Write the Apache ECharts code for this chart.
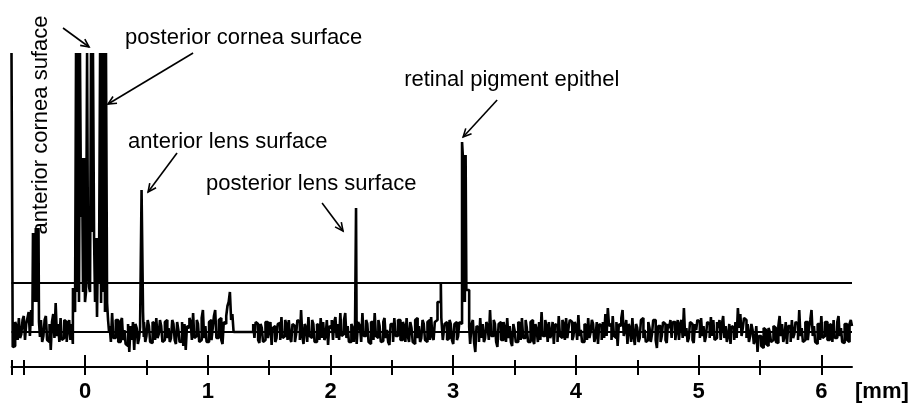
<!DOCTYPE html>
<html lang="en">
<head>
<meta charset="UTF-8">
<title>A-scan echogram</title>
<script src="https://cdn.jsdelivr.net/npm/echarts@6/dist/echarts.min.js"></script>
<style>
  html, body { margin: 0; padding: 0; background: #fff; }
  #main { width: 911px; height: 407px; }
</style>
</head>
<body>
<div id="main"></div>
<script>
  // depth axis in mm, amplitude in arbitrary units (baseline = 0)
  var xMin = -0.6, xMax = 6.25;
  var yMin = -35, yMax = 279;      // echoes above yMax are clipped
  var threshold = 49;

  var majorTicks = [0, 1, 2, 3, 4, 5, 6];
  var minorTicks = [-0.6, -0.5, 0.5, 1.5, 2.5, 3.5, 4.5, 5.5];

  // background trace, one sample every 0.01 mm from -0.6 mm
  var noiseStart = -0.6, noiseStep = 0.01;
  var noise = [
    279, -15, -14, 10, 6, -8, 14, -6, -2, 12, 16, -8, 8, 14, 20, -4, 22, 6, 10, -8,
    10, 0, 10, 0, 12, -10, -4, 12, 16, -8, -10, 8, -18, 10, 18, -6, 29, -4, 8, -10,
    14, -8, -6, 12, 10, -10, 4, 12, -8, 8, -12, 0, 0, 0, 0, 0, 0, 0, 0, 0,
    0, 0, 0, 0, 0, 0, 0, 0, 0, 0, 0, 0, 0, 0, 0, 0, 0, 0, 0, 0,
    6, -10, 19, -6, -6, 12, 12, -10, -10, 10, 14, -8, 2, -12, -14, 8, -20, 6, -8, 10,
    -18, 8, 4, -12, -6, 0, 0, 0, 10, -10, -4, 12, 6, -10, -11, 10, 8, -8, 14, -6,
    -2, 12, 6, -10, -8, 10, 12, -6, 4, -10, -6, 12, 8, -8, -12, 10, 2, -10, -9, 10,
    -14, 8, -18, 6, 4, 14, 10, -8, 19, -6, -4, 12, 8, -10, -8, 14, 22, -6, 6, -10,
    -10, 10, 12, -8, 4, 16, 22, -6, -6, 12, 14, -8, -12, 10, 8, 16, 26, 30, 40, 12,
    18, 0, 0, 0, 0, 0, 0, 0, 0, 0, 0, 0, 0, 0, 0, 0, 0, 8, -6, 10,
    8, -8, -11, 8, 4, -10, -8, 10, 10, -6, 2, 10, -13, 4, 6, -10, -6, 8, 9, -8,
    15, -6, -4, 12, 8, -8, 12, -6, -10, 8, 6, -10, -2, 12, 10, -8, 22, -4, -12, 8,
    4, -10, 15, -4, -6, 12, 8, -10, -10, 8, 6, -8, 14, -6, 10, -8, -4, 12, -13, 6,
    4, 12, -8, 10, 15, -6, 8, -8, 19, -4, -2, 12, 19, -6, 6, -10, -10, 8, 4, -10,
    -8, 0, 0, 10, 6, -10, 19, -4, -4, 12, 8, -10, -12, 10, 10, -8, 19, -4, -6, 12,
    6, -10, -9, 10, 14, -6, 2, -10, -13, 8, 8, -10, 14, -4, -4, 12, 12, -8, -8, 10,
    6, -10, 14, -4, -10, 10, 4, -10, -12, 12, 14, -6, 6, -10, -6, 12, 8, -8, -10, 10,
    12, -8, 15, -4, -8, 10, 14, 0, 0, 0, 0, 0, -10, 8, 10, -8, -6, 12, 8, -8,
    -12, 8, 10, -8, -4, 10, 0, 0, 0, 0, 0, 0, 0, 0, -12, 8, 12, -10, -20, 6,
    4, -10, 14, -6, 8, -10, -6, 10, 6, -8, 22, -4, -4, 12, 8, -10, -15, 8, 10, -8,
    -8, 10, 4, -10, 14, -6, 6, -10, -14, 8, 2, -10, -10, 10, 8, -8, 14, -6, -6, 12,
    4, -10, -10, 10, 12, -8, -12, 8, 2, -10, 10, -8, 20, -4, -4, 12, 6, -10, 10, -6,
    -2, 10, -12, 8, 6, -10, 16, -4, -6, 12, 8, -8, 14, -6, 4, 12, 10, -8, -4, 10,
    6, -8, 17, -4, 2, -10, -10, 8, 6, -8, 14, -6, 0, 12, 8, -10, -4, 10, -12, 8,
    6, -8, 10, -6, 18, -4, 24, 6, 8, -8, 16, -4, -6, 10, -14, 8, 6, 14, 22, -4,
    2, 12, -12, 8, 4, -10, 14, -4, -13, 8, 4, -10, -6, 12, 14, -6, 2, -10, -8, 10,
    4, -10, -2, 12, 12, -8, -16, 6, 6, -10, -4, 10, 8, -8, -11, 8, 4, 12, -6, 10,
    10, -8, 2, 12, -8, 8, 12, -6, 24, -4, 4, -10, -6, 10, 8, -8, -11, 8, 2, 12,
    10, -6, 14, -4, 6, -10, -4, 10, 8, -6, 15, -4, 12, -8, -6, 10, 4, 12, -8, 8,
    16, -6, 6, -10, -4, 8, -12, 6, 4, -8, 10, -6, 24, 4, 18, -4, 4, 14, 12, -6,
    8, -10, -4, 8, 2, -12, -8, 6, -20, -4, -4, -14, -16, 4, 2, -12, -14, 4, 0, -10,
    -8, 6, 4, -10, -11, 6, 16, -4, 8, -10, -4, 10, -12, 6, 6, -10, 12, -6, -2, 10,
    8, -8, 22, -4, 4, -10, -8, 10, 10, -8, 4, 12, 22, -4, 6, -10, -12, 8, 8, -8,
    16, -6, -4, 10, 10, -8, -8, 8, 6, -10, 12, -6, -6, 10, 16, -4, 4, -10, -11, 8,
    8, -8, -10, 8, 12, 6
  ];

  // echoes, finer samples [mm, amplitude]
  var echoAntCornea = [
    [-0.425, 99], [-0.419, 30], [-0.413, 99], [-0.408, 30], [-0.402, 104], [-0.396, 30],
    [-0.391, 104], [-0.385, 30], [-0.380, 104], [-0.376, 10], [-0.368, -5]
  ];
  var echoCornea = [
    [-0.099, 44], [-0.090, 30], [-0.082, 20], [-0.074, 279], [-0.066, 40], [-0.058, 279], [-0.050, 30],
    [-0.042, 279], [-0.033, 115], [-0.025, 174], [-0.017, 40], [-0.009, 174], [-0.001, 30], [0.007, 40],
    [0.016, 279], [0.024, 60], [0.032, 45], [0.040, 40], [0.048, 279], [0.056, 100], [0.064, 279],
    [0.073, 94], [0.081, 30], [0.089, 94], [0.097, 15], [0.105, 94], [0.113, 50], [0.122, 279],
    [0.130, 29], [0.138, 279], [0.146, 40], [0.154, 279], [0.162, 20], [0.170, 279], [0.179, 29],
    [0.187, 12], [0.195, 0]
  ];
  var echoAntLens = [[0.448, 5], [0.460, 142], [0.472, 20], [0.478, -5]];
  var echoPostLens = [[2.200, 8], [2.208, 124], [2.213, -12], [2.225, 10]];
  var echoSmall = [[2.860, 12], [2.872, 30], [2.899, 49], [2.903, 14], [2.915, -8]];
  var echoRetina = [
    [3.056, 8], [3.072, 190], [3.078, 177], [3.084, 30], [3.090, 177], [3.095, 30],
    [3.101, 177], [3.107, 42], [3.130, 5], [3.138, -12]
  ];

  // annotations, in data units: arrows [tail, head], labels anchored left/middle
  var arrows = [
    [[-0.180, 304], [0.032, 285]],
    [[0.880, 279], [0.187, 228]],
    [[0.749, 179], [0.513, 140]],
    [[1.931, 129], [2.102, 101]],
    [[3.358, 232], [3.081, 195]]
  ];
  var notes = [
    { text: 'anterior cornea suface', at: [-0.360, 207], rotate: true },
    { text: 'posterior cornea surface', at: [0.326, 294] },
    { text: 'anterior lens surface', at: [0.350, 190] },
    { text: 'posterior lens surface', at: [0.986, 148] },
    { text: 'retinal pigment epithel', at: [2.600, 252] }
  ];

  var echoes = [echoAntCornea, echoCornea, echoAntLens, echoPostLens, echoSmall, echoRetina];
  var trace = [];
  noise.forEach(function (v, i) {
    var x = +(noiseStart + i * noiseStep).toFixed(3);
    var covered = echoes.some(function (e) { return x >= e[0][0] && x <= e[e.length - 1][0]; });
    if (!covered) trace.push([x, v]);
  });
  echoes.forEach(function (e) { trace = trace.concat(e); });
  trace.sort(function (a, b) { return a[0] - b[0]; });

  var font = '"Liberation Sans", Arial, Helvetica, sans-serif';

  var chart = echarts.init(document.getElementById('main'));
  chart.setOption({
    animation: false,
    backgroundColor: '#fff',
    grid: { left: 11.5, right: 59, top: 53, bottom: 40, containLabel: false, outerBoundsMode: 'none' },
    xAxis: [
      {
        type: 'value', min: xMin, max: xMax, position: 'bottom',
        axisLine: { show: true, onZero: false, lineStyle: { color: '#000', width: 2 } },
        axisTick: { show: true, inside: false, length: 8, lineStyle: { color: '#000', width: 2 },
          customValues: minorTicks.concat(majorTicks) },
        axisLabel: { show: true, customValues: majorTicks, margin: 14, color: '#000',
          fontFamily: font, fontSize: 22, fontWeight: 'bold' },
        splitLine: { show: false },
        name: '[mm]', nameLocation: 'end', nameGap: 3,
        nameTextStyle: { color: '#000', fontFamily: font, fontSize: 22, fontWeight: 'bold',
          align: 'left', verticalAlign: 'top', padding: [14, 0, 0, 0] }
      },
      {
        type: 'value', min: xMin, max: xMax, position: 'bottom',
        axisLine: { show: false, onZero: false },
        axisTick: { show: true, inside: true, length: 7, lineStyle: { color: '#000', width: 2 },
          customValues: minorTicks },
        axisLabel: { show: false },
        splitLine: { show: false }
      },
      {
        type: 'value', min: xMin, max: xMax, position: 'bottom',
        axisLine: { show: false, onZero: false },
        axisTick: { show: true, inside: true, length: 12, lineStyle: { color: '#000', width: 2 },
          customValues: majorTicks },
        axisLabel: { show: false },
        splitLine: { show: false }
      }
    ],
    yAxis: { type: 'value', min: yMin, max: yMax, show: false, splitLine: { show: false } },
    series: [{
      type: 'line',
      xAxisIndex: 0,
      data: trace,
      step: 'end',
      showSymbol: false,
      symbol: 'none',
      lineStyle: { color: '#000', width: 2.6 },
      markLine: {
        silent: true, symbol: 'none', animation: false,
        label: { show: false },
        lineStyle: { color: '#000', width: 2, type: 'solid' },
        data: [{ yAxis: threshold }, { yAxis: 0 }]
      }
    }]
  });

  var graphics = [];
  arrows.forEach(function (a) {
    var p0 = chart.convertToPixel({ gridIndex: 0 }, a[0]);
    var p1 = chart.convertToPixel({ gridIndex: 0 }, a[1]);
    var ang = Math.atan2(p1[1] - p0[1], p1[0] - p0[0]);
    var len = 9, spread = 0.45;
    var w1 = [p1[0] - len * Math.cos(ang - spread), p1[1] - len * Math.sin(ang - spread)];
    var w2 = [p1[0] - len * Math.cos(ang + spread), p1[1] - len * Math.sin(ang + spread)];
    graphics.push({ type: 'line', z: 10, shape: { x1: p0[0], y1: p0[1], x2: p1[0], y2: p1[1] },
      style: { stroke: '#000', lineWidth: 1.6 } });
    graphics.push({ type: 'polyline', z: 10, shape: { points: [w1, p1, w2] },
      style: { stroke: '#000', lineWidth: 1.6, fill: null } });
  });
  notes.forEach(function (n) {
    var p = chart.convertToPixel({ gridIndex: 0 }, n.at);
    graphics.push({
      type: 'text', z: 10, x: p[0], y: p[1],
      rotation: n.rotate ? Math.PI / 2 : 0,
      style: { text: n.text, fill: '#000', font: '22px ' + font,
        align: n.rotate ? 'center' : 'left', verticalAlign: 'middle' }
    });
  });
  chart.setOption({ graphic: graphics });
</script>
</body>
</html>
